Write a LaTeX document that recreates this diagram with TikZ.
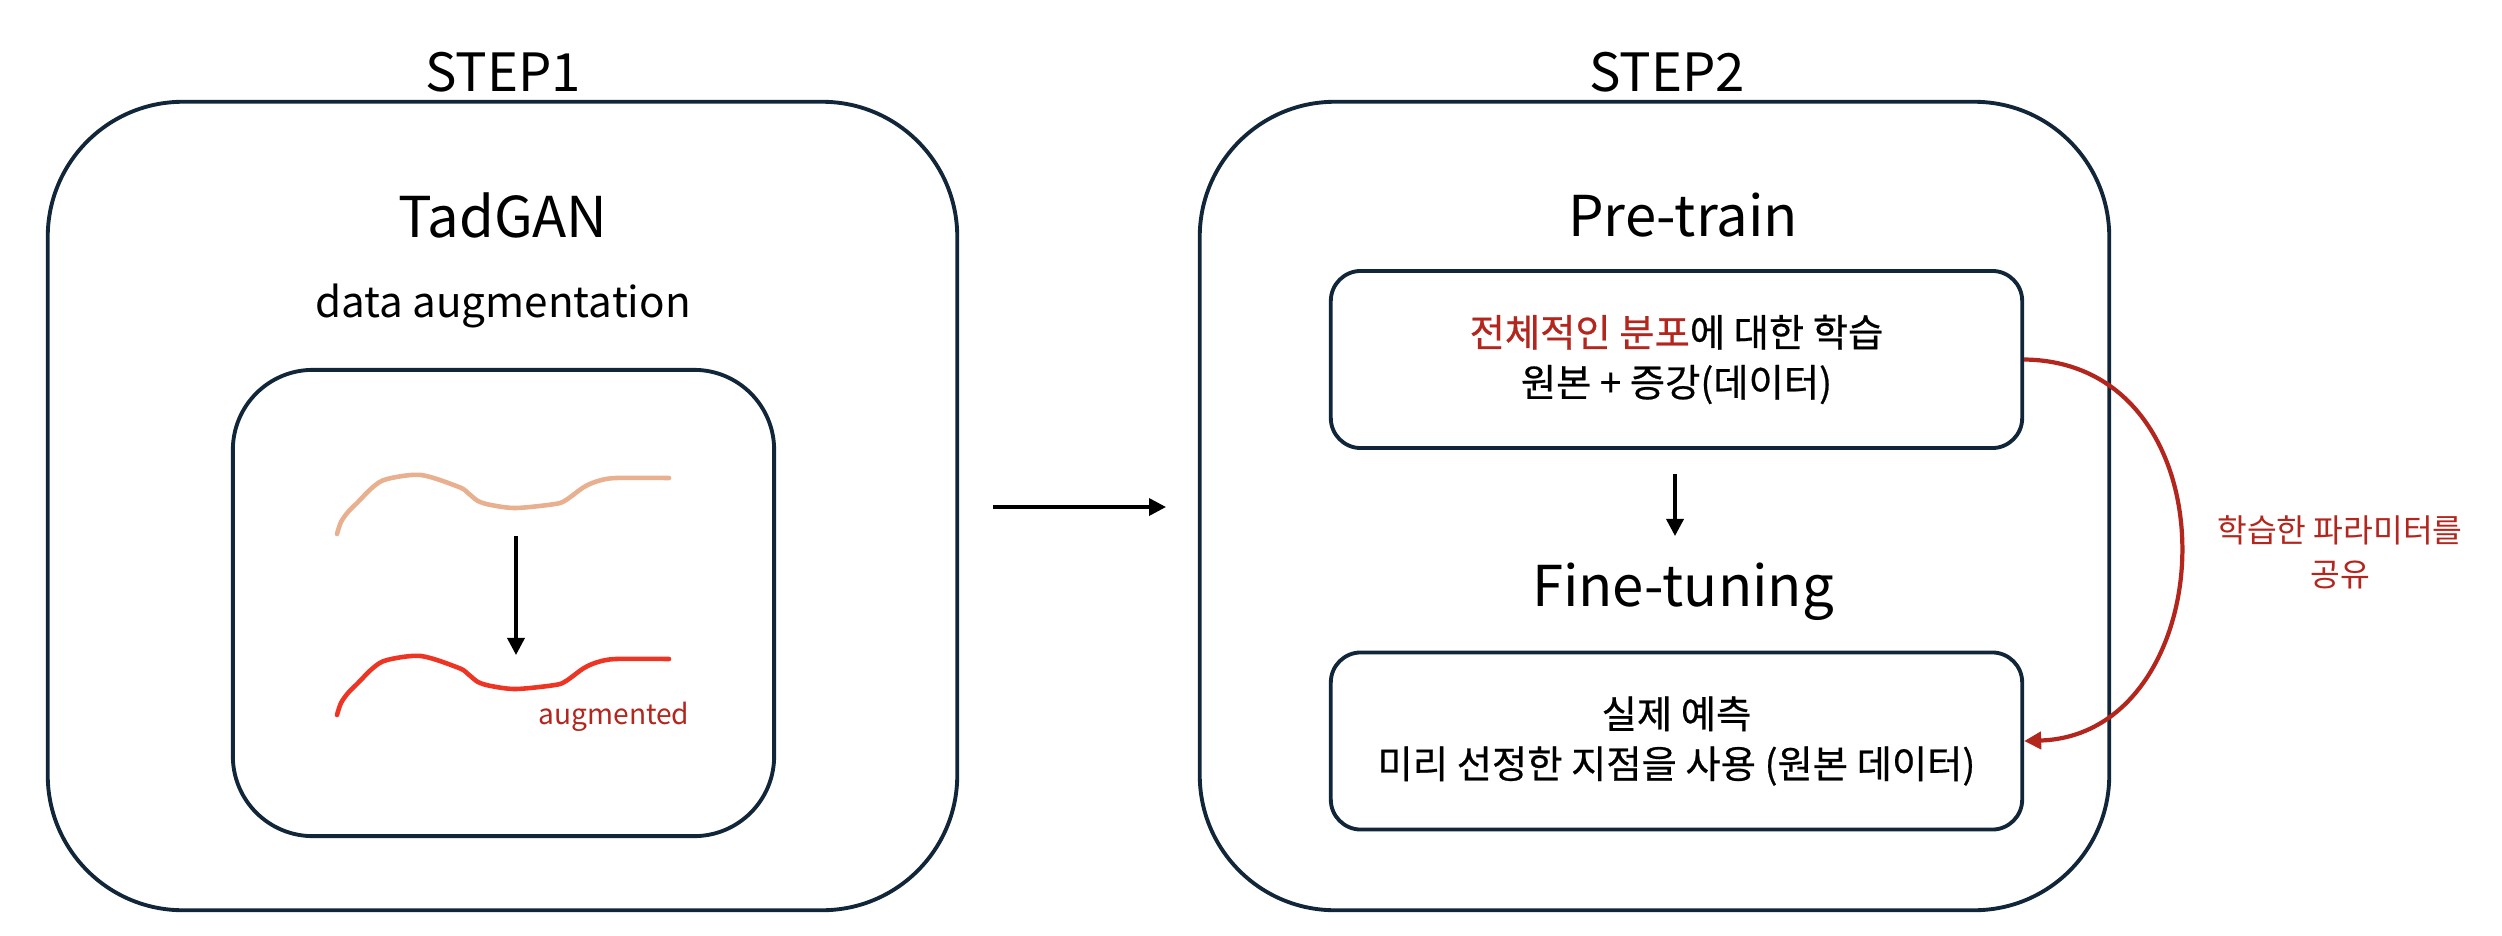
\documentclass[tikz,border=0pt]{standalone}
\usepackage{fontspec}
\setmainfont{Noto Sans CJK KR}
\newfontfamily\krbold{Noto Sans CJK KR}[FakeBold=0.6]
\usetikzlibrary{arrows.meta}
\definecolor{navy}{HTML}{12263A}
\definecolor{beige}{HTML}{E8B08E}
\definecolor{redline}{HTML}{EE3524}
\definecolor{darkred}{HTML}{B3261E}
\begin{document}
\begin{tikzpicture}[x=0.01cm,y=-0.01cm,
  bigbox/.style={draw=navy,line width=1.1pt,rounded corners=1.35cm,minimum width=9.09cm,minimum height=8.08cm,inner sep=0pt},
  innerbox/.style={draw=navy,line width=1.1pt,rounded corners=0.8cm,minimum width=5.41cm,minimum height=4.66cm,inner sep=0pt},
  stepbox/.style={draw=navy,line width=1.1pt,rounded corners=0.3cm,minimum width=6.91cm,minimum height=1.77cm,inner sep=0pt,align=center,font=\krbold\fontsize{10.9}{14.2}\selectfont},
  title/.style={font=\fontsize{15}{18}\selectfont,inner sep=0pt},
  head/.style={font=\fontsize{16}{19}\selectfont,inner sep=0pt},
  blackarrow/.style={-{Triangle[length=0.17cm,width=0.17cm]},line width=1pt,black},
  series/.style={line width=1.3pt,line cap=round,line join=round}
]
\useasboundingbox (0,0) rectangle (2502,936);

% STEP 1
\node[title] (s1title) at (503,72) {STEP1};
\node[bigbox] (s1box) at (502.5,506) {};
\node[head] (tadgan) at (503,215) {TadGAN};
\node[font=\fontsize{12}{14}\selectfont,inner sep=0pt] (aug) at (503,306) {data augmentation};
\node[innerbox] (inner) at (503.5,603) {};

\draw[series,beige] plot[smooth,tension=0.5] coordinates {(337,534) (341,522) (348,512) (357,503) (373,487) (387,479) (421,475) (459,487) (468,493) (478,501) (491,505) (516,508) (555,504) (566,500) (584,487) (598,481) (616,478) (669,478)};
\draw[series,redline,shift={(0,181)}] plot[smooth,tension=0.5] coordinates {(337,534) (341,522) (348,512) (357,503) (373,487) (387,479) (421,475) (459,487) (468,493) (478,501) (491,505) (516,508) (555,504) (566,500) (584,487) (598,481) (616,478) (669,478)};
\coordinate (c1top) at (516,536);
\coordinate (c1bot) at (516,655);
\draw[blackarrow] (c1top) -- (c1bot);
\node[font=\fontsize{8}{10}\selectfont,text=darkred,inner sep=0pt] (augmented) at (614,717) {augmented};

% middle arrow
\coordinate (midstart) at (993,507);
\coordinate (midend) at (1166,507);
\draw[blackarrow] (midstart) -- (midend);

% STEP 2
\node[title] (s2title) at (1667,72) {STEP2};
\node[bigbox] (s2box) at (1654.5,506) {};
\node[head] (pretrain) at (1683,215) {Pre-train};
\node[stepbox] (topbox) at (1676.5,359.5) {\textcolor{darkred}{전체적인 분포}에 대한 학습\\원본 + 증강(데이터)};
\node[head] (finetune) at (1683,592) {Fine-tuning};
\node[stepbox] (botbox) at (1676.5,741) {실제 예측\\미리 선정한 지점을 사용 (원본 데이터)};
\draw[blackarrow] (topbox.south -| 1675,0) ++(0,24) coordinate (a2s) -- (1675,536) coordinate (a2e);

% shared params arc
\draw[darkred,line width=1.2pt,-{Triangle[length=0.17cm,width=0.17cm]}] (topbox.east) .. controls (2240,362) and (2225,735) .. (botbox.east);
\node[font=\fontsize{9.2}{12.5}\selectfont,text=darkred,align=center,inner sep=0pt] (sharelabel) at (2340,552) {학습한 파라미터를\\공유};
\end{tikzpicture}
\end{document}
